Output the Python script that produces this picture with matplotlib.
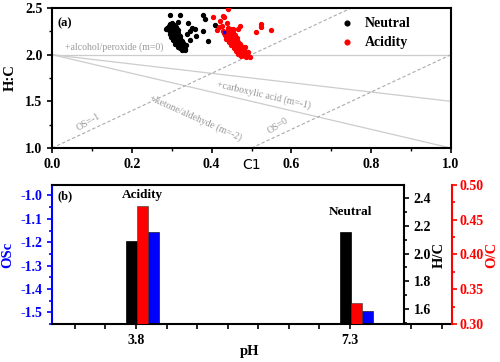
import matplotlib
matplotlib.use("Agg")
import matplotlib.pyplot as plt
from matplotlib.ticker import MultipleLocator, FixedLocator

plt.rcParams["font.family"] = ["Liberation Serif", "DejaVu Serif"]
plt.rcParams["font.weight"] = "bold"

# --- panel (a): Van Krevelen points (O:C, H:C) ---
neutral_oc = [0.288, 0.292, 0.296, 0.299, 0.301, 0.294, 0.303, 0.297, 0.306, 0.300,
              0.308, 0.304, 0.311, 0.298, 0.307, 0.313, 0.310, 0.316, 0.303, 0.318,
              0.314, 0.321, 0.309, 0.319, 0.324, 0.316, 0.327, 0.322, 0.330, 0.326,
              0.333, 0.318, 0.312, 0.306, 0.302, 0.296, 0.290, 0.285, 0.320, 0.325,
              0.315, 0.322, 0.328, 0.335, 0.305, 0.300, 0.310, 0.313, 0.317, 0.309,
              0.301, 0.295,
              0.296, 0.321, 0.379, 0.383, 0.340, 0.315, 0.358, 0.352, 0.378, 0.360,
              0.392, 0.346, 0.333, 0.408, 0.345, 0.338]
neutral_hc = [2.29, 2.31, 2.28, 2.30, 2.27, 2.26, 2.25, 2.24, 2.27, 2.22,
              2.23, 2.20, 2.21, 2.19, 2.18, 2.17, 2.15, 2.19, 2.16, 2.14,
              2.12, 2.13, 2.11, 2.10, 2.11, 2.08, 2.09, 2.07, 2.07, 2.05,
              2.06, 2.16, 2.24, 2.32, 2.34, 2.33, 2.27, 2.28, 2.20, 2.15,
              2.26, 2.18, 2.12, 2.10, 2.29, 2.31, 2.30, 2.28, 2.23, 2.19,
              2.21, 2.22,
              2.42, 2.42, 2.43, 2.385, 2.34, 2.35, 2.27, 2.29, 2.25, 2.20,
              2.15, 2.16, 2.05, 2.32, 2.25, 2.22]

acid_oc = [0.428, 0.432, 0.436, 0.434, 0.440, 0.438, 0.444, 0.442, 0.448, 0.446,
           0.452, 0.450, 0.456, 0.454, 0.460, 0.458, 0.464, 0.462, 0.468, 0.466,
           0.472, 0.470, 0.476, 0.475, 0.480, 0.484, 0.488, 0.492, 0.496, 0.486,
           0.478, 0.470, 0.465, 0.458, 0.452, 0.445, 0.440, 0.473, 0.482, 0.490,
           0.444, 0.449, 0.455, 0.461, 0.467, 0.474, 0.483, 0.479, 0.437, 0.441,
           0.447, 0.453, 0.459, 0.463,
           0.403, 0.429, 0.432, 0.421, 0.438, 0.413, 0.454, 0.471, 0.466, 0.525,
           0.523, 0.511, 0.548, 0.442, 0.418, 0.425]
acid_hc = [2.25, 2.23, 2.24, 2.21, 2.22, 2.19, 2.20, 2.17, 2.18, 2.15,
           2.16, 2.13, 2.14, 2.11, 2.12, 2.09, 2.10, 2.07, 2.08, 2.05,
           2.06, 2.03, 2.04, 2.01, 2.03, 2.01, 2.00, 1.99, 1.98, 1.98,
           2.07, 2.11, 2.14, 2.17, 2.20, 2.23, 2.26, 2.09, 2.05, 2.03,
           2.14, 2.10, 2.07, 2.04, 2.01, 1.99, 2.08, 2.00, 2.17, 2.29,
           2.27, 2.24, 2.21, 2.18,
           2.40, 2.41, 2.40, 2.36, 2.34, 2.26, 2.28, 2.31, 2.27, 2.33,
           2.30, 2.24, 2.26, 2.49, 2.30, 2.31]

blue_oc = [0.431]
blue_hc = [2.24]

# --- panel (b): bulk ratios per pH ---
ph = [3.8, 7.3]
ph_names = ["Acidity", "Neutral"]
hc_vals = [2.09, 2.155]
oc_vals = [0.470, 0.330]
osc_vals = [-1.157, -1.495]

fig = plt.figure(figsize=(5, 3.62), dpi=100)

# ================= (a) =================
ax1 = fig.add_axes([0.104, 0.591, 0.798, 0.387])
gray_line = "#cccccc"
gray_dash = "#aaaaaa"
gray_txt = "#999999"
ax1.plot([0, 1], [2, 2], color=gray_line, lw=0.9)
ax1.plot([0, 1], [2, 1.5], color=gray_line, lw=0.9)
ax1.plot([0, 1], [2, 1.0], color=gray_line, lw=0.9)
ax1.plot([0, 0.75], [1, 2.5], color=gray_dash, lw=0.8, ls=(0, (3, 2)))
ax1.plot([0.5, 1], [1, 2], color=gray_dash, lw=0.8, ls=(0, (3, 2)))

tk = dict(color=gray_txt, fontsize=7, fontweight="normal", rotation_mode="anchor",
          ha="left", va="center")
ax1.text(0.033, 2.075, "+alcohol/peroxide (m=0)", **tk)
ax1.text(0.413, 1.68, "+carboxylic acid (m=-1)", rotation=-13, **tk)
ax1.text(0.246, 1.54, "+ketone/aldehyde (m=-2)", rotation=-24, **tk)
ax1.text(0.063, 1.21, "OS=-1", rotation=31, **tk)
ax1.text(0.541, 1.17, "OS=0", rotation=32, **tk)

ax1.scatter(neutral_oc, neutral_hc, s=8, color="black", label="Neutral", zorder=3)
ax1.scatter(acid_oc, acid_hc, s=8, color="red", label="Acidity", zorder=3)
ax1.scatter(blue_oc, blue_hc, s=4, color="blue", marker="s", zorder=4)

ax1.set_xlim(0, 1)
ax1.set_ylim(1, 2.5)
ax1.xaxis.set_major_locator(MultipleLocator(0.2))
ax1.xaxis.set_minor_locator(MultipleLocator(0.1))
ax1.yaxis.set_major_locator(MultipleLocator(0.5))
ax1.yaxis.set_minor_locator(MultipleLocator(0.25))
ax1.tick_params(which="major", length=3.5, width=1.2, labelsize=10, direction="out")
ax1.tick_params(which="minor", length=2.5, width=1.0, direction="out")
for s in ax1.spines.values():
    s.set_linewidth(1.5)
ax1.set_ylabel("H:C", fontsize=10.5, fontweight="bold", labelpad=6)
fig.text(0.504, 0.544, "C1", fontsize=10, fontweight="normal", family="DejaVu Sans",
         ha="center", va="center")
ax1.text(0.013, 0.89, "(a)", transform=ax1.transAxes, fontsize=9, fontweight="bold",
         va="center")
ax1.legend(loc="upper left", bbox_to_anchor=(0.672, 1.025), frameon=False,
           prop={"size": 10, "weight": "bold"}, handletextpad=0.3,
           labelspacing=0.4, markerscale=1.2)

# ================= (b) =================
xl = (2.425, 8.97)
ax = fig.add_axes([0.104, 0.105, 0.8, 0.384])
ax.set_xlim(*xl)
osc_lim = (-1.55, -0.955)
hc_lim = (1.49, 2.497)
oc_lim = (0.30, 0.50)
ax.set_ylim(*osc_lim)

ax_hc = ax.twinx()
ax_hc.set_ylim(*hc_lim)
ax_oc = ax.twinx()
ax_oc.set_ylim(*oc_lim)

w = 0.175
for i, p in enumerate(ph):
    ax_hc.bar(p - 0.07, hc_vals[i] - hc_lim[0], bottom=hc_lim[0], width=w,
              color="black", edgecolor="black", lw=0.5)
    ax_oc.bar(p + 0.11, oc_vals[i] - oc_lim[0], bottom=oc_lim[0], width=w,
              color="red", edgecolor="#333333", lw=0.4)
    ax.bar(p + 0.29, osc_vals[i] - osc_lim[0], bottom=osc_lim[0], width=w,
           color="blue", edgecolor="black", lw=0.4)

ax.text(3.9, -0.997, ph_names[0], fontsize=9.5, fontweight="bold", ha="center", va="center")
ax.text(7.3, -1.07, ph_names[1], fontsize=9.5, fontweight="bold", ha="center", va="center")
ax.text(0.013, 0.92, "(b)", transform=ax.transAxes, fontsize=9, fontweight="bold",
        va="center")

x_hc = 0.88
x_hc_data = xl[0] + x_hc * (xl[1] - xl[0])

# main axis: left blue, bottom black, top partial
ax.spines["right"].set_visible(False)
ax.spines["top"].set_bounds(xl[0], x_hc_data)
for s in ax.spines.values():
    s.set_linewidth(1.5)
ax.spines["left"].set_color("blue")
ax.yaxis.set_major_locator(MultipleLocator(0.1))
ax.yaxis.set_minor_locator(MultipleLocator(0.05))
ax.tick_params(axis="y", which="both", colors="blue", direction="out", width=1.2)
ax.tick_params(axis="y", which="major", length=3.5, labelsize=10)
ax.tick_params(axis="y", which="minor", length=2.5)
ax.set_ylabel("OSc", color="blue", fontsize=10.5, fontweight="bold", labelpad=4)
ax.yaxis.set_major_formatter(plt.FuncFormatter(lambda v, _: f"{v:.1f}"))

ax.xaxis.set_major_locator(FixedLocator(ph))
ax.xaxis.set_minor_locator(FixedLocator([2.8, 3.3, 4.3, 4.8, 5.3, 5.8, 6.3, 6.8, 8.3, 8.8]))
ax.tick_params(axis="x", which="both", direction="out", length=3.5, width=1.2, labelsize=10)
ax.set_xticklabels([f"{p}" for p in ph])
fig.text(0.5, 1 - 351 / 362, "pH", fontsize=10.5, fontweight="bold", ha="center",
         va="center")

# H/C axis inside at 0.88
for k in ("left", "top", "bottom"):
    ax_hc.spines[k].set_visible(False)
ax_hc.spines["right"].set_position(("axes", x_hc))
ax_hc.spines["right"].set_linewidth(1.5)
ax_hc.yaxis.set_major_locator(MultipleLocator(0.2))
ax_hc.yaxis.set_minor_locator(MultipleLocator(0.1))
ax_hc.tick_params(axis="y", which="both", direction="out", width=1.2)
ax_hc.tick_params(axis="y", which="major", length=3.5, labelsize=10)
ax_hc.tick_params(axis="y", which="minor", length=2.5)
ax_hc.set_ylabel("H/C", fontsize=10.5, fontweight="bold", labelpad=1)

# O/C axis at right edge
for k in ("left", "top", "bottom"):
    ax_oc.spines[k].set_visible(False)
ax_oc.spines["right"].set_color("red")
ax_oc.spines["right"].set_linewidth(1.5)
ax_oc.yaxis.set_major_locator(MultipleLocator(0.05))
ax_oc.yaxis.set_minor_locator(MultipleLocator(0.025))
ax_oc.tick_params(axis="y", which="both", colors="red", direction="out", width=1.2)
ax_oc.tick_params(axis="y", which="major", length=3.5, labelsize=10, pad=2)
ax_oc.tick_params(axis="y", which="minor", length=2.5)
ax_oc.yaxis.set_major_formatter(plt.FuncFormatter(lambda v, _: f"{v:.2f}"))
ax_oc.set_ylabel("O/C", color="red", fontsize=10.5, fontweight="bold", labelpad=1)

fig.savefig("out.png", dpi=100)
